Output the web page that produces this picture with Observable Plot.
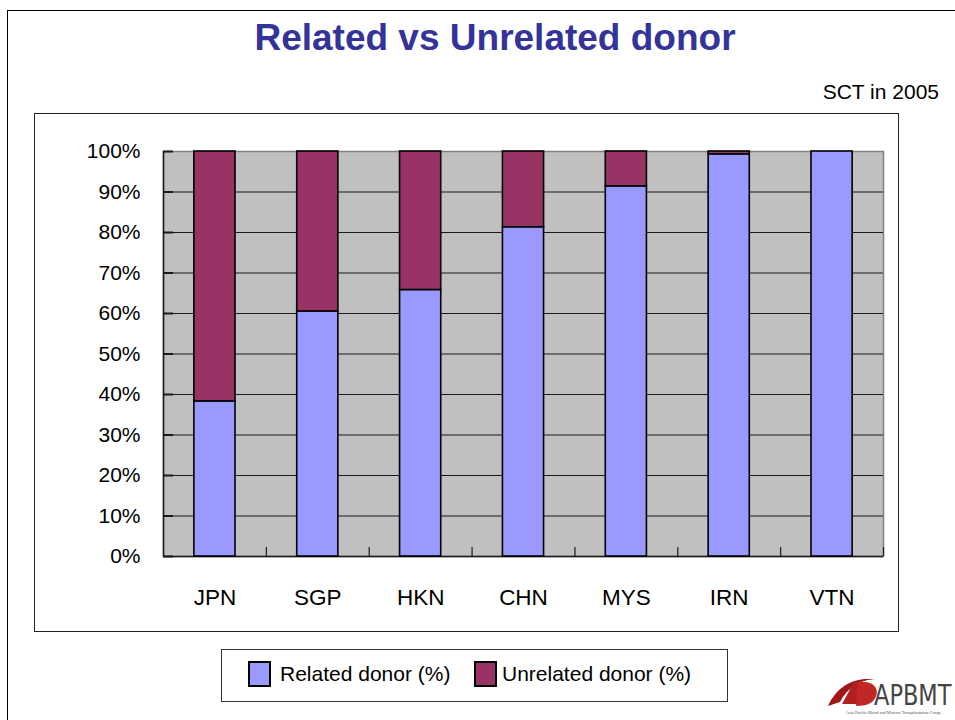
<!DOCTYPE html>
<html>
<head>
<meta charset="utf-8">
<script src="https://cdn.jsdelivr.net/npm/d3@7"></script>
<script src="https://cdn.jsdelivr.net/npm/@observablehq/plot@0.6"></script>
<style>
  html, body { margin: 0; padding: 0; background: #fff; }
  body { width: 955px; height: 720px; position: relative; overflow: hidden; font-family: "Liberation Sans", Arial, sans-serif; }
  #slide { position: absolute; left: 7px; top: 10px; width: 1000px; height: 800px; border: 1.5px solid #000; box-sizing: border-box; }
  #title { position: absolute; left: 0; width: 990px; top: 16px; text-align: center; font-weight: bold; font-size: 37px; color: #333399; line-height: 44px; }
  #sub { position: absolute; right: 16px; top: 80px; font-size: 21px; line-height: 24px; color: #000; }
  #chart { position: absolute; left: 34px; top: 113px; width: 865px; height: 519px; }
  #box { position: absolute; left: 34px; top: 113px; width: 865px; height: 519px; border: 1.5px solid #222; box-sizing: border-box; pointer-events: none; }
  #legend { position: absolute; left: 221px; top: 649px; width: 507px; height: 53px; border: 1px solid #333; box-sizing: border-box; }
  .sw { position: absolute; top: 11px; width: 23px; height: 26px; border: 2px solid #000; box-sizing: border-box; }
  .lt { position: absolute; top: 12px; font-size: 21px; line-height: 24px; color: #000; white-space: nowrap; }
  #logo { position: absolute; left: 822px; top: 672px; }
</style>
</head>
<body>
<div id="slide"></div>
<div id="title">Related vs Unrelated donor</div>
<div id="sub">SCT in 2005</div>
<div id="chart"></div>
<div id="box"></div>
<div id="legend"></div>
<svg id="logo" width="130" height="47" viewBox="0 0 130 47">
  <path d="M6,34 C16,12 36,4 54,8 C42,6 26,14 18,30 Z" fill="#a01818"/>
  <path d="M20,32 L32,10 L42,10 L38,32 Z" fill="#b02020"/>
  <path d="M36,10 C54,8 60,20 50,30 C46,33 40,34 34,34 Z" fill="#c02828"/>
  <text transform="translate(52,33) scale(1,1.15)" font-family="Liberation Sans Narrow, DejaVu Sans Condensed, sans-serif" font-size="25" fill="#444">APBMT</text>
  <text x="24" y="42" font-family="Liberation Serif, serif" font-size="4.3" fill="#555">Asia Pacific Blood and Marrow Transplantation Group</text>
</svg>
<script>
// ---- data ----
const countries = ["JPN", "SGP", "HKN", "CHN", "MYS", "IRN", "VTN"];
const relatedPct = [38.3, 60.5, 65.8, 81.3, 91.4, 99.3, 100];
const unrelatedPct = [61.7, 39.5, 34.2, 18.7, 8.6, 0.7, 0];
const seriesNames = ["Related donor (%)", "Unrelated donor (%)"];
const seriesColors = ["#9999ff", "#993366"];
const yTicks = [0, 10, 20, 30, 40, 50, 60, 70, 80, 90, 100];

const rows = [];
countries.forEach((c, i) => {
  rows.push({country: c, series: seriesNames[0], value: relatedPct[i]});
  rows.push({country: c, series: seriesNames[1], value: unrelatedPct[i]});
});

const W = 865, H = 519;
const mL = 129, mR = 16, mT = 38, mB = 76;
const step = (W - mL - mR) / countries.length;

const chart = Plot.plot({
  width: W,
  height: H,
  marginLeft: mL,
  marginRight: mR,
  marginTop: mT,
  marginBottom: mB,
  style: {fontFamily: "Liberation Sans, Arial, sans-serif", background: "transparent", color: "#000"},
  x: {domain: countries, paddingInner: 0.6, paddingOuter: 0.3, round: false, label: null},
  y: {domain: [0, 100], label: null},
  color: {domain: seriesNames, range: seriesColors},
  marks: [
    Plot.frame({fill: "#c0c0c0", stroke: "#808080", strokeWidth: 1.5}),
    Plot.ruleY(yTicks.filter(d => d > 0 && d < 100), {stroke: "#1a1a1a", strokeWidth: 1.2}),
    Plot.tickY(yTicks, {stroke: "#1a1a1a", strokeWidth: 2, insetRight: W - mL - mR - 10}),
    Plot.ruleY([0], {stroke: "#1a1a1a", strokeWidth: 1.5}),
    Plot.ruleX([countries[0]], {dx: -step / 2, stroke: "#1a1a1a", strokeWidth: 1.5}),
    Plot.ruleX(countries, {x: d => d, y1: 0, y2: 2.2, dx: step / 2, stroke: "#1a1a1a", strokeWidth: 1.2}),
    Plot.barY(rows, Plot.stackY({x: "country", y: "value", fill: "series", stroke: "#000", strokeWidth: 1.6})),
    Plot.axisY({ticks: yTicks, tickFormat: d => d + "%", tickSize: 0, tickPadding: 23, fontSize: 21}),
    Plot.axisX({tickSize: 0, tickPadding: 33, fontSize: 22.5})
  ]
});
document.getElementById("chart").appendChild(chart);

// legend
const legend = document.getElementById("legend");
const swX = [26, 252], txtX = [58, 280];
seriesNames.forEach((name, i) => {
  const sw = document.createElement("div");
  sw.className = "sw";
  sw.style.left = swX[i] + "px";
  sw.style.background = seriesColors[i];
  legend.appendChild(sw);
  const t = document.createElement("div");
  t.className = "lt";
  t.style.left = txtX[i] + "px";
  t.textContent = name;
  legend.appendChild(t);
});
</script>
</body>
</html>
